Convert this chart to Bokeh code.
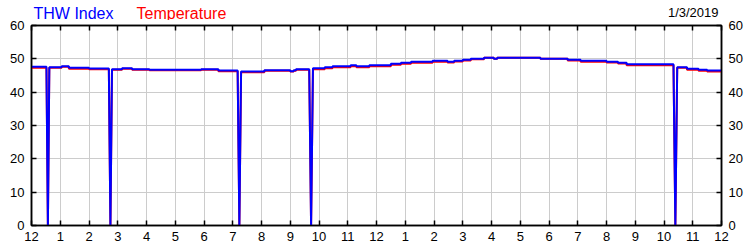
from bokeh.plotting import figure
from bokeh.models import LinearAxis, FixedTicker, Range1d
from bokeh.layouts import column
from bokeh.core.properties import value
from bokeh.embed import file_html
from bokeh.resources import INLINE

# ---- data (hours since midnight, 1/3/2019) ----
date_label = "1/3/2019"
series_names = ["THW Index", "Temperature"]
series_colors = ["#0000FF", "#FF0000"]
hour_ticks = list(range(25))
hour_labels = ["12", "1", "2", "3", "4", "5", "6", "7", "8", "9", "10", "11",
               "12", "1", "2", "3", "4", "5", "6", "7", "8", "9", "10", "11", "12"]
y_ticks = [0, 10, 20, 30, 40, 50, 60]

# change points (hour) and the value held from that hour on
times = [0.0, 0.52, 0.62, 1.05, 1.3, 2.0, 2.69, 2.8, 3.15, 3.5, 4.1, 5.9, 6.5,
         7.17, 7.29, 8.1, 9.0, 9.12, 9.2, 9.66, 9.79, 10.2, 10.47, 11.1, 11.3,
         11.75, 12.5, 12.85, 13.2, 13.95, 14.47, 14.7, 15.0, 15.28, 15.74,
         16.08, 16.2, 17.7, 18.65, 19.1, 20.0, 20.4, 20.7, 22.33, 22.46, 22.8,
         23.2, 23.5, 24.0]

thw_values = [47.6, 0, 47.5, 47.8, 47.3, 47.1, 0, 46.9, 47.2, 46.9, 46.7, 46.9, 46.5,
              0, 46.2, 46.6, 46.3, 46.6, 46.9, 0, 47.2, 47.5, 47.8, 48.1, 47.8,
              48.1, 48.5, 48.8, 49.1, 49.4, 49.1, 49.4, 49.7, 50.0, 50.3,
              50.0, 50.3, 50.0, 49.7, 49.4, 49.1, 48.8, 48.4, 0, 47.5, 47.0,
              46.7, 46.5, 46.5]

temp_values = [47.3, 0, 47.3, 47.6, 47.0, 46.9, 0, 46.7, 47.0, 46.7, 46.6, 46.7, 46.3,
               0, 46.0, 46.4, 46.2, 46.4, 46.7, 0, 46.9, 47.2, 47.5, 47.8, 47.5,
               47.8, 48.2, 48.5, 48.8, 49.1, 48.9, 49.2, 49.5, 49.9, 50.3,
               50.0, 50.3, 50.0, 49.5, 49.1, 48.9, 48.6, 48.1, 0, 47.3, 46.7,
               46.4, 46.2, 46.2]


def trace(ts, vs):
    """Hold each value until the next change point; a 0 reading is a single dip."""
    xs, ys = [], []
    for i in range(len(ts) - 1):
        if vs[i] == 0:
            xs.append((ts[i] + ts[i + 1]) / 2)
            ys.append(0)
        else:
            xs += [ts[i], ts[i + 1]]
            ys += [vs[i], vs[i]]
    return xs, ys


FONT = "Liberation Sans"
x_range = Range1d(0, 24)

# ---- header strip with the series names and the date ----
head = figure(width=750, height=20, output_backend="svg", toolbar_location=None, title=None,
              x_range=x_range, y_range=Range1d(20, 0),
              min_border_left=31, min_border_right=29, min_border_top=0, min_border_bottom=0)
head.axis.visible = False
head.grid.visible = False
head.outline_line_color = None
head.background_fill_color = "white"
head.border_fill_color = "white"
head.text(x=[0], y=[12.9], text=[series_names[0]], x_offset=2,
          text_color=series_colors[0], text_font=value(FONT), text_font_size="16px",
          text_baseline="alphabetic", text_align="left")
head.text(x=[0], y=[12.9], text=[series_names[1]], x_offset=105,
          text_color=series_colors[1], text_font=value(FONT), text_font_size="16px",
          text_baseline="alphabetic", text_align="left")
head.text(x=[24], y=[12.3], text=[date_label], x_offset=-3,
          text_color="black", text_font=value(FONT), text_font_size="13px",
          text_baseline="alphabetic", text_align="right")

# ---- main chart ----
p = figure(width=750, height=230, output_backend="svg", toolbar_location=None,
           x_range=x_range, y_range=Range1d(0, 60),
           min_border_left=31, min_border_right=29, min_border_top=5, min_border_bottom=25)

tx, ty = trace(times, temp_values)
bx, by = trace(times, thw_values)
p.line(tx, ty, line_color=series_colors[1], line_width=2)
p.line(bx, by, line_color=series_colors[0], line_width=2)


def style_axis(ax, ticks, labels=True):
    ax.ticker = FixedTicker(ticks=ticks)
    ax.minor_tick_line_color = None
    ax.major_tick_in = 5
    ax.major_tick_out = 0
    ax.major_tick_line_color = "black"
    ax.major_tick_line_width = 1.5
    ax.axis_line_color = "black"
    ax.axis_line_width = 1.5
    ax.major_label_text_font = FONT
    if labels:
        ax.major_label_text_font_size = "13px"
        ax.major_label_text_color = "black"
        ax.major_label_standoff = 6
    else:
        ax.major_label_text_font_size = "0px"
        ax.major_label_text_color = None
        ax.major_label_standoff = 0


xa = p.xaxis[0]
style_axis(xa, hour_ticks)
xa.major_label_overrides = {t: lab for t, lab in zip(hour_ticks, hour_labels)}
xa.major_label_standoff = 6
ya = p.yaxis[0]
style_axis(ya, y_ticks)
ya.major_label_standoff = 7

ra = LinearAxis()
style_axis(ra, y_ticks)
ra.major_label_standoff = 7
p.add_layout(ra, "right")

ta = LinearAxis()
style_axis(ta, hour_ticks, labels=False)
p.add_layout(ta, "above")

p.xgrid.ticker = FixedTicker(ticks=hour_ticks)
p.ygrid.ticker = FixedTicker(ticks=y_ticks)
p.grid.grid_line_color = "#cccccc"
p.grid.grid_line_width = 1
p.outline_line_color = "black"
p.outline_line_width = 1.5
p.background_fill_color = "white"
p.border_fill_color = "white"

open("out.html", "w").write(file_html(column(head, p, spacing=0), INLINE))
